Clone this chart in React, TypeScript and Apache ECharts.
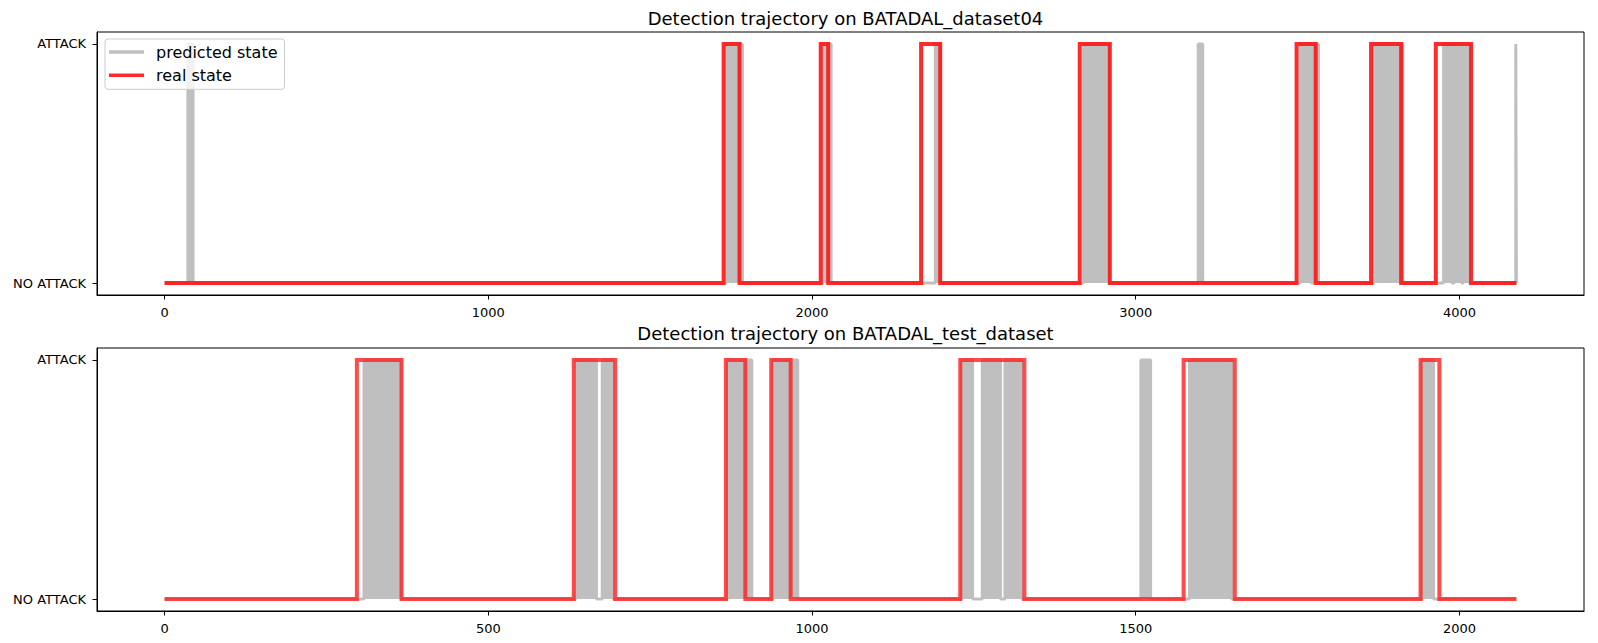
import React, { useEffect, useRef } from "react";
import * as echarts from "echarts";

// ---- data (hour indices) ----
const topTitle = "Detection trajectory on BATADAL_dataset04";
const bottomTitle = "Detection trajectory on BATADAL_test_dataset";
const topLength = 4177;
const bottomLength = 2089;
const stateLabels = ["NO ATTACK", "ATTACK"];
const topTicks = [0, 1000, 2000, 3000, 4000];
const bottomTicks = [0, 500, 1000, 1500, 2000];

// real attack periods [start, end]
const topReal = [
  [1727, 1776],
  [2027, 2050],
  [2337, 2396],
  [2827, 2920],
  [3497, 3556],
  [3727, 3820],
  [3927, 4036],
];
// predicted attack periods [start, end]
const topPredicted = [
  [72, 88],
  [1734, 1785],
  [2034, 2059],
  [2381, 2395],
  [2839, 2917],
  [3193, 3207],
  [3508, 3542],
  [3548, 3565],
  [3735, 3825],
  [3951, 3977],
  [3984, 4007],
  [4012, 4031],
  [4174, 4176],
];

const bottomReal = [
  [297, 366],
  [632, 696],
  [867, 897],
  [937, 967],
  [1229, 1328],
  [1574, 1653],
  [1940, 1969],
];
const bottomPredicted = [
  [308, 365],
  [635, 667],
  [676, 693],
  [869, 907],
  [939, 978],
  [1231, 1248],
  [1263, 1291],
  [1298, 1324],
  [1508, 1523],
  [1583, 1648],
  [1942, 1960],
];

function trace(intervals: number[][], n: number): number[][] {
  const pts: number[][] = [[0, 0]];
  for (const [a, b] of intervals) {
    pts.push([a, 0], [a, 1], [b, 1], [b, 0]);
  }
  pts.push([n - 1, 0]);
  return pts;
}

const FONT = "DejaVu Sans";
const GRID_LEFT = 97;
const GRID_WIDTH = 1487;

function xAxis(gridIndex: number, n: number, ticks: number[]) {
  const pad = (n - 1) * 0.05;
  return {
    type: "value",
    gridIndex,
    min: -pad,
    max: n - 1 + pad,
    splitLine: { show: false },
    axisLine: { show: true, onZero: false, lineStyle: { color: "#000", width: 1 } },
    axisTick: { show: true, length: 4.5, customValues: ticks, lineStyle: { color: "#000" } },
    axisLabel: {
      customValues: ticks,
      formatter: (v: number) => String(Math.round(v)),
      color: "#000",
      fontFamily: FONT,
      fontSize: 13,
      margin: 11,
    },
  };
}

function yAxis(gridIndex: number) {
  return {
    type: "value",
    gridIndex,
    min: -0.05,
    max: 1.05,
    splitLine: { show: false },
    axisLine: { show: true, onZero: false, lineStyle: { color: "#000", width: 1 } },
    axisTick: { show: true, length: 4.5, customValues: [0, 1], lineStyle: { color: "#000" } },
    axisLabel: {
      customValues: [0, 1],
      formatter: (v: number) => stateLabels[Math.round(v)],
      color: "#000",
      fontFamily: FONT,
      fontSize: 13,
      margin: 11,
    },
  };
}

function predictedSeries(idx: number, data: number[][]) {
  return {
    name: "predicted state",
    type: "line",
    xAxisIndex: idx,
    yAxisIndex: idx,
    data,
    symbol: "none",
    lineStyle: { color: "#bfbfbf", width: 3 },
    itemStyle: { color: "#bfbfbf" },
    areaStyle: { color: "#bfbfbf", opacity: 1, origin: 0 },
    z: 2,
  };
}

function realSeries(idx: number, data: number[][], color: string) {
  return {
    name: "real state",
    type: "line",
    xAxisIndex: idx,
    yAxisIndex: idx,
    data,
    symbol: "none",
    lineStyle: { color, width: 4, join: "miter" },
    itemStyle: { color },
    z: 3,
  };
}

export default function App() {
  const ref = useRef<HTMLDivElement>(null);
  useEffect(() => {
    document.body.style.margin = "0";
    const chart = echarts.init(ref.current!, null, { renderer: "svg" });
    chart.setOption({
      animation: false,
      backgroundColor: "#fff",
      title: [
        {
          text: topTitle,
          left: GRID_LEFT + GRID_WIDTH / 2,
          top: 4,
          textAlign: "center",
          textStyle: { fontFamily: FONT, fontSize: 18, fontWeight: "normal", color: "#000" },
        },
        {
          text: bottomTitle,
          left: GRID_LEFT + GRID_WIDTH / 2,
          top: 319,
          textAlign: "center",
          textStyle: { fontFamily: FONT, fontSize: 18, fontWeight: "normal", color: "#000" },
        },
      ],
      legend: {
        data: [
          { name: "predicted state", icon: "rect" },
          { name: "real state", icon: "rect" },
        ],
        orient: "vertical",
        left: 105,
        top: 39,
        padding: [5, 7, 6, 4],
        itemWidth: 35,
        itemHeight: 3.5,
        itemGap: 7.3,
        backgroundColor: "rgba(255,255,255,0.8)",
        borderColor: "#cccccc",
        borderWidth: 1,
        borderRadius: 3,
        textStyle: {
          fontFamily: FONT,
          fontSize: 16,
          lineHeight: 16,
          color: "#000",
          padding: [0, 0, 0, 7],
        },
      },
      grid: [
        { left: GRID_LEFT, width: GRID_WIDTH, top: 32, height: 263, show: true, borderColor: "#000", borderWidth: 1 },
        { left: GRID_LEFT, width: GRID_WIDTH, top: 348, height: 263, show: true, borderColor: "#000", borderWidth: 1 },
      ],
      xAxis: [xAxis(0, topLength, topTicks), xAxis(1, bottomLength, bottomTicks)],
      yAxis: [yAxis(0), yAxis(1)],
      series: [
        predictedSeries(0, trace(topPredicted, topLength)),
        realSeries(0, trace(topReal, topLength), "rgba(255,20,20,0.9)"),
        predictedSeries(1, trace(bottomPredicted, bottomLength)),
        realSeries(1, trace(bottomReal, bottomLength), "rgba(255,30,30,0.8)"),
      ],
    });
    return () => chart.dispose();
  }, []);
  return <div ref={ref} style={{ width: 1598, height: 643 }} />;
}
